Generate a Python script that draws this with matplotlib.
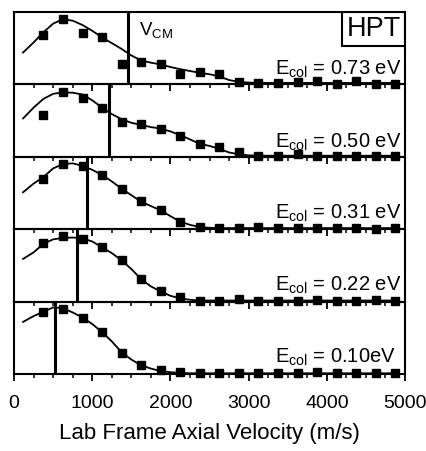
import matplotlib
matplotlib.use("Agg")
import matplotlib.pyplot as plt
from matplotlib.patches import Rectangle
from matplotlib.ticker import MultipleLocator

plt.rcParams['font.family'] = ['Liberation Sans', 'DejaVu Sans']
plt.rcParams['mathtext.fontset'] = 'custom'
plt.rcParams['mathtext.rm'] = 'Liberation Sans'
plt.rcParams['mathtext.it'] = 'Liberation Sans'

# ---- data ----
pt_x = [375, 625, 875, 1125, 1375, 1625, 1875, 2125, 2375, 2625, 2875,
        3125, 3375, 3625, 3875, 4125, 4375, 4625, 4875]

pts_073 = [0.68, 0.91, 0.71, 0.66, 0.28, 0.31, 0.28, 0.14, 0.17, 0.15, 0.04,
           0.02, 0.02, 0.03, 0.05, 0.01, 0.05, 0.01, 0.01]
pts_050 = [0.58, 0.90, 0.81, 0.67, 0.48, 0.45, 0.38, 0.29, 0.175, 0.13, 0.07,
           0.015, 0.015, 0.035, 0.015, 0.015, 0.015, 0.015, 0.015]
pts_031 = [0.70, 0.90, 0.87, 0.75, 0.56, 0.39, 0.26, 0.10, 0.03, 0.01, 0.01,
           0.03, 0.01, 0.01, 0.01, 0.01, 0.01, 0.0, 0.01]
pts_022 = [0.81, 0.91, 0.86, 0.75, 0.58, 0.31, 0.14, 0.07, 0.014, 0.01, 0.03,
           0.01, 0.01, 0.01, 0.02, 0.01, 0.01, 0.02, 0.01]
pts_010 = [0.86, 0.90, 0.78, 0.58, 0.29, 0.13, 0.055, 0.03, 0.01, 0.01, 0.01,
           0.01, 0.01, 0.01, 0.03, 0.01, 0.01, 0.01, 0.01]

fit_x = [115, 250, 375, 500, 625, 750, 875, 1000, 1125, 1250, 1375, 1500,
         1625, 1750, 1875, 2000, 2125, 2250, 2375, 2500, 2625, 2750, 2875,
         3000, 3250, 3500, 4000, 4500, 4900]

fit_073 = [0.44, 0.58, 0.72, 0.84, 0.90, 0.88, 0.82, 0.74, 0.65, 0.57, 0.49,
           0.40, 0.33, 0.30, 0.275, 0.24, 0.21, 0.185, 0.16, 0.14, 0.11, 0.06,
           0.035, 0.025, 0.02, 0.02, 0.02, 0.02, 0.02]
fit_050 = [0.53, 0.68, 0.80, 0.87, 0.89, 0.885, 0.86, 0.78, 0.68, 0.59, 0.52,
           0.47, 0.44, 0.41, 0.39, 0.35, 0.30, 0.24, 0.18, 0.15, 0.11, 0.06,
           0.035, 0.02, 0.015, 0.015, 0.015, 0.015, 0.015]
fit_031 = [0.51, 0.63, 0.72, 0.84, 0.90, 0.91, 0.875, 0.82, 0.75, 0.66, 0.56,
           0.47, 0.38, 0.32, 0.26, 0.18, 0.105, 0.06, 0.03, 0.02, 0.015, 0.015,
           0.015, 0.015, 0.015, 0.015, 0.015, 0.015, 0.015]
fit_022 = [0.59, 0.68, 0.80, 0.86, 0.88, 0.885, 0.875, 0.83, 0.75, 0.67, 0.57,
           0.45, 0.31, 0.21, 0.14, 0.08, 0.045, 0.025, 0.015, 0.015, 0.015,
           0.015, 0.015, 0.015, 0.015, 0.015, 0.015, 0.015, 0.015]
fit_010 = [0.72, 0.80, 0.86, 0.92, 0.91, 0.85, 0.78, 0.69, 0.58, 0.45, 0.30,
           0.20, 0.12, 0.075, 0.04, 0.025, 0.015, 0.01, 0.01, 0.01, 0.01, 0.01,
           0.01, 0.01, 0.01, 0.01, 0.01, 0.01, 0.01]

v_cm = [1454, 1211, 929, 801, 524]
labels = ['E$_{\\mathrm{col}}$ = 0.73 eV', 'E$_{\\mathrm{col}}$ = 0.50 eV',
          'E$_{\\mathrm{col}}$ = 0.31 eV', 'E$_{\\mathrm{col}}$ = 0.22 eV',
          'E$_{\\mathrm{col}}$ = 0.10eV']
label_pos = [(0.992, 0.13), (0.992, 0.13), (0.992, 0.147),
             (0.992, 0.153), (0.977, 0.16)]

points = [pts_073, pts_050, pts_031, pts_022, pts_010]
fits = [fit_073, fit_050, fit_031, fit_022, fit_010]

# ---- figure ----
fig, axes = plt.subplots(5, 1, sharex=True, figsize=(4.27, 4.51), dpi=100)
fig.subplots_adjust(left=0.033, right=0.9485, top=0.9734, bottom=0.1707,
                    hspace=0)

for i, ax in enumerate(axes):
    ax.patch.set_visible(False)
    ax.plot(fit_x, fits[i], color='black', lw=1.3, zorder=2)
    ax.plot(pt_x, points[i], 's', color='black', ms=5.8, clip_on=False,
            zorder=3)
    ax.axvline(v_cm[i], color='black', lw=2.2, zorder=2)
    ax.text(label_pos[i][0], label_pos[i][1], labels[i], transform=ax.transAxes,
            ha='right', va='baseline', fontsize=14.5, zorder=4)

    ax.set_xlim(0, 5000)
    ax.set_ylim(0, 1)
    ax.set_yticks([])
    for s in ax.spines.values():
        s.set_linewidth(1.5)
    ax.xaxis.set_major_locator(MultipleLocator(1000))
    ax.xaxis.set_minor_locator(MultipleLocator(250))
    ax.tick_params(axis='x', which='major', direction='out', length=5,
                   width=1.3, labelsize=14, pad=10)
    ax.tick_params(axis='x', which='minor', direction='out', length=3,
                   width=1.1)

axes[0].text(0.32, 0.676, 'V$_{\\mathrm{CM}}$', transform=axes[0].transAxes,
             ha='left', va='baseline', fontsize=13.5)

# HPT box in the top corner
axes[0].add_patch(Rectangle((0.839, 0.535), 0.161, 0.465,
                            transform=axes[0].transAxes, fill=False,
                            lw=1.5, ec='black', zorder=4))
axes[0].text(0.9195, 0.77, 'HPT', transform=axes[0].transAxes,
             ha='center', va='center', fontsize=19.5, zorder=5)

axes[-1].set_xlabel('Lab Frame Axial Velocity (m/s)', fontsize=16,
                    labelpad=8)

fig.savefig('out.png', dpi=100)
